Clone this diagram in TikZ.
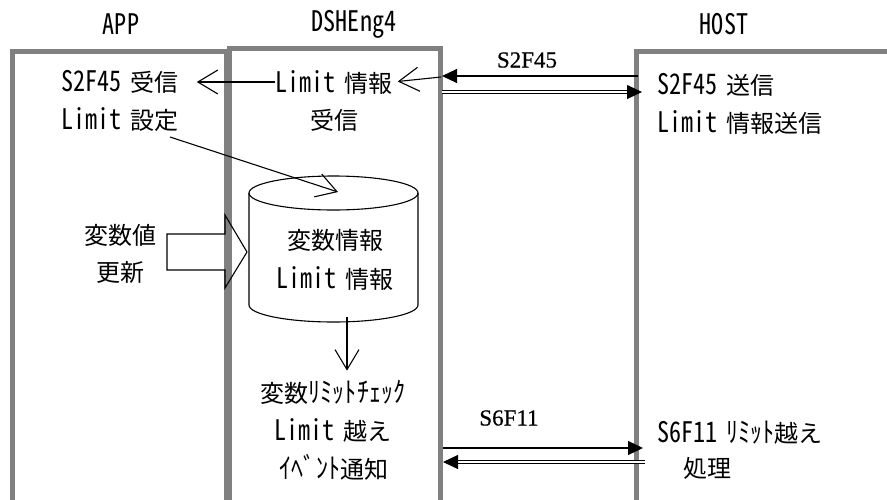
\documentclass[tikz,border=0pt]{standalone}
\usepackage{fontspec}
\setmainfont{Noto Sans CJK JP}
\newfontfamily\hw[CharacterWidth=Half, Scale=1.18, FakeStretch=0.85]{Noto Sans CJK JP}
\newfontfamily\msgfont[FakeBold=0.6]{Liberation Serif}
\newcommand{\hwsp}{\hspace{9pt}}
\usetikzlibrary{arrows.meta}
\definecolor{lanegray}{RGB}{128,128,128}
\tikzset{
  txt/.style={font=\fontsize{24}{28}\selectfont, inner sep=0pt},
  msg/.style={font=\msgfont\fontsize{23}{26}\selectfont, inner sep=0pt},
  lane/.style={draw=lanegray, line width=5pt},
  thinarrow/.style={line width=1.1pt, -{Straight Barb[length=20pt,width=24pt,line width=1.1pt]}},
  solidarrow/.style={line width=1.1pt, -{Triangle[length=15pt,width=14pt]}},
  dblarrow/.style={double, double distance=2.2pt, line width=0.8pt, -{Triangle[length=15pt,width=14pt]}}
}
\begin{document}
\begin{tikzpicture}[x=1pt,y=-1pt]
\useasboundingbox (0,0) rectangle (887,499);
\fill[white] (0,0) rectangle (887,499);
% lanes
\begin{scope}
\clip (0,0) rectangle (887,499);
\draw[lane] (12,530) -- (12,51) -- (226,51) -- (226,530);
\draw[lane] (229,530) -- (229,48) -- (440,48) -- (440,530);
\draw[lane] (636,530) -- (636,51) -- (900,51);
\end{scope}
% lane titles
\node[txt] (lapp) at (121,24) {\hw APP};
\node[txt] (ldsh) at (354,24) {\hw DSHEng4};
\node[txt] (lhost) at (724,24) {\hw HOST};
% APP texts
\node[txt] (a1) at (120,82) {{\hw S2F45}\hwsp 受信};
\node[txt] (a2) at (120,120) {{\hw Limit}\hwsp 設定};
\node[txt] (v1) at (120,235) {変数値};
\node[txt] (v2) at (120,272) {更新};
% DSHEng4 texts
\node[txt] (d1) at (334,82) {{\hw Limit}\hwsp 情報};
\node[txt] (d2) at (334,120) {受信};
\node[txt] (c1) at (335,240) {変数情報};
\node[txt] (c2) at (335,278) {{\hw Limit}\hwsp 情報};
\node[txt] (e1) at (333,392) {変数{\hw ﾘﾐｯﾄﾁｪｯｸ}};
\node[txt] (e2) at (333,430) {{\hw Limit}\hwsp 越え};
\node[txt] (e3) at (334,467) {{\hw ｲﾍﾞﾝﾄ}通知};
% HOST texts
\node[txt, anchor=west] (h1) at (657,85) {{\hw S2F45}\hwsp 送信};
\node[txt, anchor=west] (h2) at (657,122) {{\hw Limit}\hwsp 情報送信};
\node[txt, anchor=west] (h3) at (657,433) {{\hw S6F11}\hwsp{\hw ﾘﾐｯﾄ}越え};
\node[txt, anchor=west] (h4) at (683,468) {処理};
% message labels
\node[msg] (s1) at (527,60) {S2F45};
\node[msg] (s2) at (509,418) {S6F11};
% cylinder
\coordinate (cyl) at (333.5,249);
\draw[line width=1.1pt] (249,193) -- (249,305) arc[start angle=180,end angle=360,x radius=84.5pt,y radius=17pt] -- (418,193);
\draw[line width=1.1pt] (333.5,193) ellipse [x radius=84.5pt, y radius=17pt];
% block arrow
\draw[line width=1.1pt] (167,234) -- (225,234) -- (225,215) -- (247,252) -- (225,288) -- (225,270) -- (167,270) -- cycle;
% coordinates
\coordinate (hostin1) at (638,76);
\coordinate (dshout1) at (442,76);
\coordinate (dshr1) at (441,77);
\coordinate (dshout2) at (442,92);
\coordinate (hostin2) at (642,92);
\coordinate (a2tail) at (170,137);
\coordinate (cyltop) at (338,192);
\coordinate (cylbot) at (347,317);
\coordinate (dshout3) at (443,448);
\coordinate (hostin3) at (643,448);
\coordinate (hostout4) at (645,462);
\coordinate (dshin4) at (443,462);
% connectors
\draw[solidarrow] (hostin1) -- (dshout1);
\draw[thinarrow, shorten >=5pt] (dshr1) -- (d1.east);
\draw[thinarrow, shorten >=18pt] (d1.west) -- (a1.east);
\draw[dblarrow] (dshout2) -- (hostin2);
\draw[thinarrow] (a2tail) -- (cyltop);
\draw[thinarrow, shorten >=9pt] (cylbot) -- (e1.north -| cylbot);
\draw[solidarrow] (dshout3) -- (hostin3);
\draw[dblarrow] (hostout4) -- (dshin4);
\end{tikzpicture}
\end{document}
